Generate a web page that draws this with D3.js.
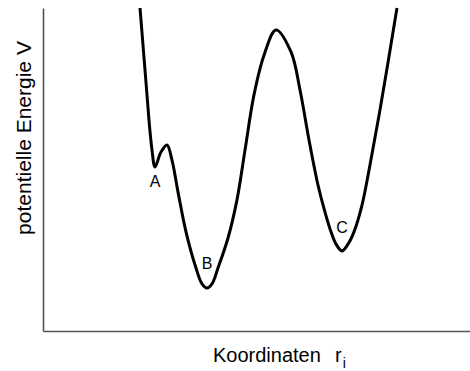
<!DOCTYPE html>
<html>
<head>
<meta charset="utf-8">
<script src="https://cdn.jsdelivr.net/npm/d3@7"></script>
<style>
  html, body { margin: 0; padding: 0; background: #fff; }
  svg { display: block; font-family: "Liberation Sans", Arial, sans-serif; }
</style>
</head>
<body>
<svg id="chart" width="470" height="371"></svg>
<script>
// Potential energy profile along the reaction coordinate (arbitrary units)
const coordinate = [22.72, 23.89, 24.82, 25.53, 26.23, 27.63, 29.04, 30.21, 31.62, 33.49, 35.83, 37.24, 38.41,
                    39.58, 40.98, 43.33, 45.43, 47.31, 49.41, 51.76, 54.57, 58.08, 60.19, 62.30, 64.40,
                    66.04, 67.45, 68.62, 70.02, 71.43, 72.83, 74.71, 76.58, 78.92, 82.90];
const energy     = [100.0, 80.8, 65.3, 56.0, 50.8, 55.4, 57.6, 52.9, 43.0, 30.7, 19.5, 14.6, 13.3,
                    14.6, 19.5, 28.8, 40.6, 56.0, 73.1, 85.4, 93.2, 86.4, 74.6, 59.1, 45.2,
                    36.8, 30.7, 26.9, 24.8, 26.9, 30.7, 39.0, 51.4, 68.4, 100.0];

// Labelled minima
const minimaNames = ["A", "B", "C"];
const minimaX = [26.23, 38.41, 70.02];
const minimaE = [50.8, 13.3, 24.8];

const svg = d3.select("#chart");
const x = d3.scaleLinear().domain([0, 100]).range([43, 470]);
const y = d3.scaleLinear().domain([0, 100]).range([331, 8]);

// Axes without ticks
const axisColor = "#555";
svg.append("g")
  .attr("transform", "translate(43,0)")
  .call(d3.axisLeft(y).tickValues([]).tickSizeOuter(0))
  .call(g => g.select(".domain").attr("stroke", axisColor).attr("stroke-width", 1.6));
svg.append("g")
  .attr("transform", "translate(0,331)")
  .call(d3.axisBottom(x).tickValues([]).tickSizeOuter(0))
  .call(g => g.select(".domain").attr("stroke", axisColor).attr("stroke-width", 1.6));

// Energy curve
const pts = coordinate.map((c, i) => [c, energy[i]]);
const line = d3.line().x(d => x(d[0])).y(d => y(d[1])).curve(d3.curveCatmullRom.alpha(0.5));
svg.append("path")
  .datum(pts)
  .attr("d", line)
  .attr("fill", "none")
  .attr("stroke", "#000")
  .attr("stroke-width", 3)
  .attr("stroke-linejoin", "round");

// Labels of the minima: A below its well, B and C inside theirs
const labelDy = [20, -19, -18];
svg.selectAll("text.min")
  .data(minimaNames)
  .join("text")
  .attr("class", "min")
  .attr("x", (d, i) => x(minimaX[i]))
  .attr("y", (d, i) => y(minimaE[i]) + labelDy[i])
  .attr("text-anchor", "middle")
  .attr("font-size", 16)
  .attr("fill", "#000")
  .text(d => d);

// Axis titles
svg.append("text")
  .attr("transform", "translate(31,138) rotate(-90)")
  .attr("text-anchor", "middle")
  .attr("font-size", 21)
  .attr("fill", "#000")
  .text("potentielle Energie V");

const xt = svg.append("text")
  .attr("y", 362)
  .attr("font-size", 20)
  .attr("fill", "#000");
xt.append("tspan").attr("x", 213).text("Koordinaten");
xt.append("tspan").attr("x", 335).text("r");
xt.append("tspan").attr("dy", 6).attr("dx", 1).attr("font-size", 14).text("i");
</script>
</body>
</html>
